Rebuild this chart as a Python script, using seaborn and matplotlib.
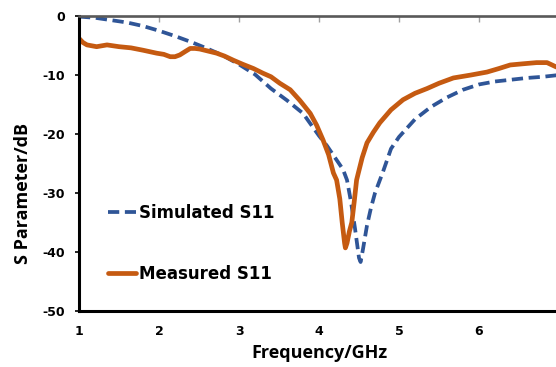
import matplotlib
matplotlib.use("Agg")
import matplotlib.pyplot as plt
import seaborn as sns
import pandas as pd

# Simulated S11 (dashed blue)
sim_freq = [1.0, 1.2, 1.4, 1.6, 1.8, 2.0, 2.2, 2.4, 2.6, 2.8,
            3.0, 3.2, 3.4, 3.6, 3.8, 4.0, 4.1, 4.2, 4.3, 4.35,
            4.4, 4.45, 4.5, 4.52, 4.55, 4.6, 4.65, 4.7, 4.8, 4.9,
            5.0, 5.2, 5.4, 5.6, 5.8, 6.0, 6.2, 6.4, 6.6, 6.8, 7.0]
sim_s11 = [-0.1, -0.3, -0.7, -1.1, -1.7, -2.5, -3.4, -4.4, -5.5, -6.7,
           -8.2, -9.9, -12.3, -14.3, -16.5, -20.3, -22.0, -24.0, -26.0, -27.8,
           -31.5, -36.0, -41.0, -41.7, -39.5, -35.5, -32.5, -30.0, -26.4, -22.5,
           -20.5, -17.5, -15.4, -13.8, -12.5, -11.6, -11.1, -10.8, -10.5, -10.3, -10.0]

# Measured S11 (solid orange)
meas_freq = [1.0, 1.05, 1.1, 1.22, 1.35, 1.5, 1.65, 1.8, 1.97, 2.06,
             2.14, 2.2, 2.26, 2.33, 2.39, 2.45, 2.51, 2.6, 2.72, 2.82,
             2.93, 3.05, 3.18, 3.3, 3.4, 3.51, 3.64, 3.76, 3.89, 3.97,
             4.05, 4.12, 4.18, 4.22, 4.26, 4.29, 4.32, 4.33, 4.35, 4.38,
             4.41, 4.44, 4.47, 4.49, 4.54, 4.6, 4.68, 4.76, 4.9, 5.05,
             5.2, 5.35, 5.5, 5.68, 5.9, 6.1, 6.25, 6.39, 6.55, 6.72,
             6.85, 6.96, 7.0]
meas_s11 = [-3.8, -4.5, -4.9, -5.2, -4.9, -5.2, -5.4, -5.8, -6.3, -6.5,
            -6.9, -6.9, -6.6, -6.0, -5.5, -5.5, -5.6, -5.9, -6.3, -6.8,
            -7.5, -8.2, -8.9, -9.7, -10.3, -11.4, -12.5, -14.3, -16.5, -18.5,
            -21.0, -23.5, -26.6, -27.8, -31.0, -35.0, -38.5, -39.3, -38.5, -36.5,
            -35.0, -31.5, -27.8, -26.7, -24.0, -21.5, -19.7, -18.1, -15.9, -14.2,
            -13.1, -12.3, -11.4, -10.5, -10.0, -9.5, -8.9, -8.3, -8.1, -7.9,
            -7.9, -8.6, -8.8]

x_ticks = [1, 2, 3, 4, 5, 6, 7]
y_ticks = [0, -10, -20, -30, -40, -50]

sns.set_style("white")
plt.rcParams['font.family'] = ['DejaVu Sans']
plt.rcParams['text.color'] = 'black'
plt.rcParams['axes.labelcolor'] = 'black'
plt.rcParams['xtick.labelcolor'] = 'black'
plt.rcParams['ytick.labelcolor'] = 'black'

df_sim = pd.DataFrame({"freq": sim_freq, "s11": sim_s11})
df_meas = pd.DataFrame({"freq": meas_freq, "s11": meas_s11})

fig = plt.figure(figsize=(5.56, 3.67), dpi=100)
ax = fig.add_axes([79 / 556, 56 / 367, 480 / 556, 295 / 367])

sns.lineplot(data=df_sim, x="freq", y="s11", ax=ax, color="#2F5597", linewidth=2.7,
             estimator=None, label="Simulated S11", dashes=False)
ax.lines[-1].set_dashes([3.0, 1.5])
ax.lines[-1].set_dash_capstyle("butt")
sns.lineplot(data=df_meas, x="freq", y="s11", ax=ax, color="#C55A11", linewidth=3.4,
             estimator=None, label="Measured S11")

ax.set_xlim(1, 7)
ax.set_ylim(-50, 0)
ax.set_xticks(x_ticks)
ax.set_yticks(y_ticks)
ax.set_xticklabels([str(t) for t in x_ticks], fontweight="bold", fontsize=9, color="black")
ax.set_yticklabels([str(t) for t in y_ticks], fontweight="bold", fontsize=9, color="black")

for s in ["left", "bottom"]:
    ax.spines[s].set_color("black")
    ax.spines[s].set_linewidth(2.2)
ax.spines["top"].set_color("#595959")
ax.spines["top"].set_linewidth(1.9)
ax.spines["right"].set_visible(False)

ax.tick_params(axis="x", bottom=False, top=True, direction="in", length=4,
               color="#A0A0A0", width=1, pad=10)
ax.tick_params(axis="y", left=True, direction="out", length=3, width=1.2,
               color="black", pad=7)

ax.set_xlabel("Frequency/GHz", fontsize=13, fontweight="bold", color="black",
              family=["Open Sans", "DejaVu Sans"])
ax.set_ylabel("S Parameter/dB", fontsize=13, fontweight="bold", color="black",
              family=["Open Sans", "DejaVu Sans"])
ax.xaxis.set_label_coords(0.5, -0.112)
ax.yaxis.set_label_coords(-0.098, 0.397)

leg = ax.legend(loc="center left", bbox_to_anchor=(0.06, 0.229), frameon=False,
                prop={"weight": "bold", "size": 12}, labelspacing=2.6,
                handlelength=1.7, handletextpad=0.2, borderpad=0, borderaxespad=0)
for t in leg.get_texts():
    t.set_color("black")

fig.savefig("out.png", dpi=100)
